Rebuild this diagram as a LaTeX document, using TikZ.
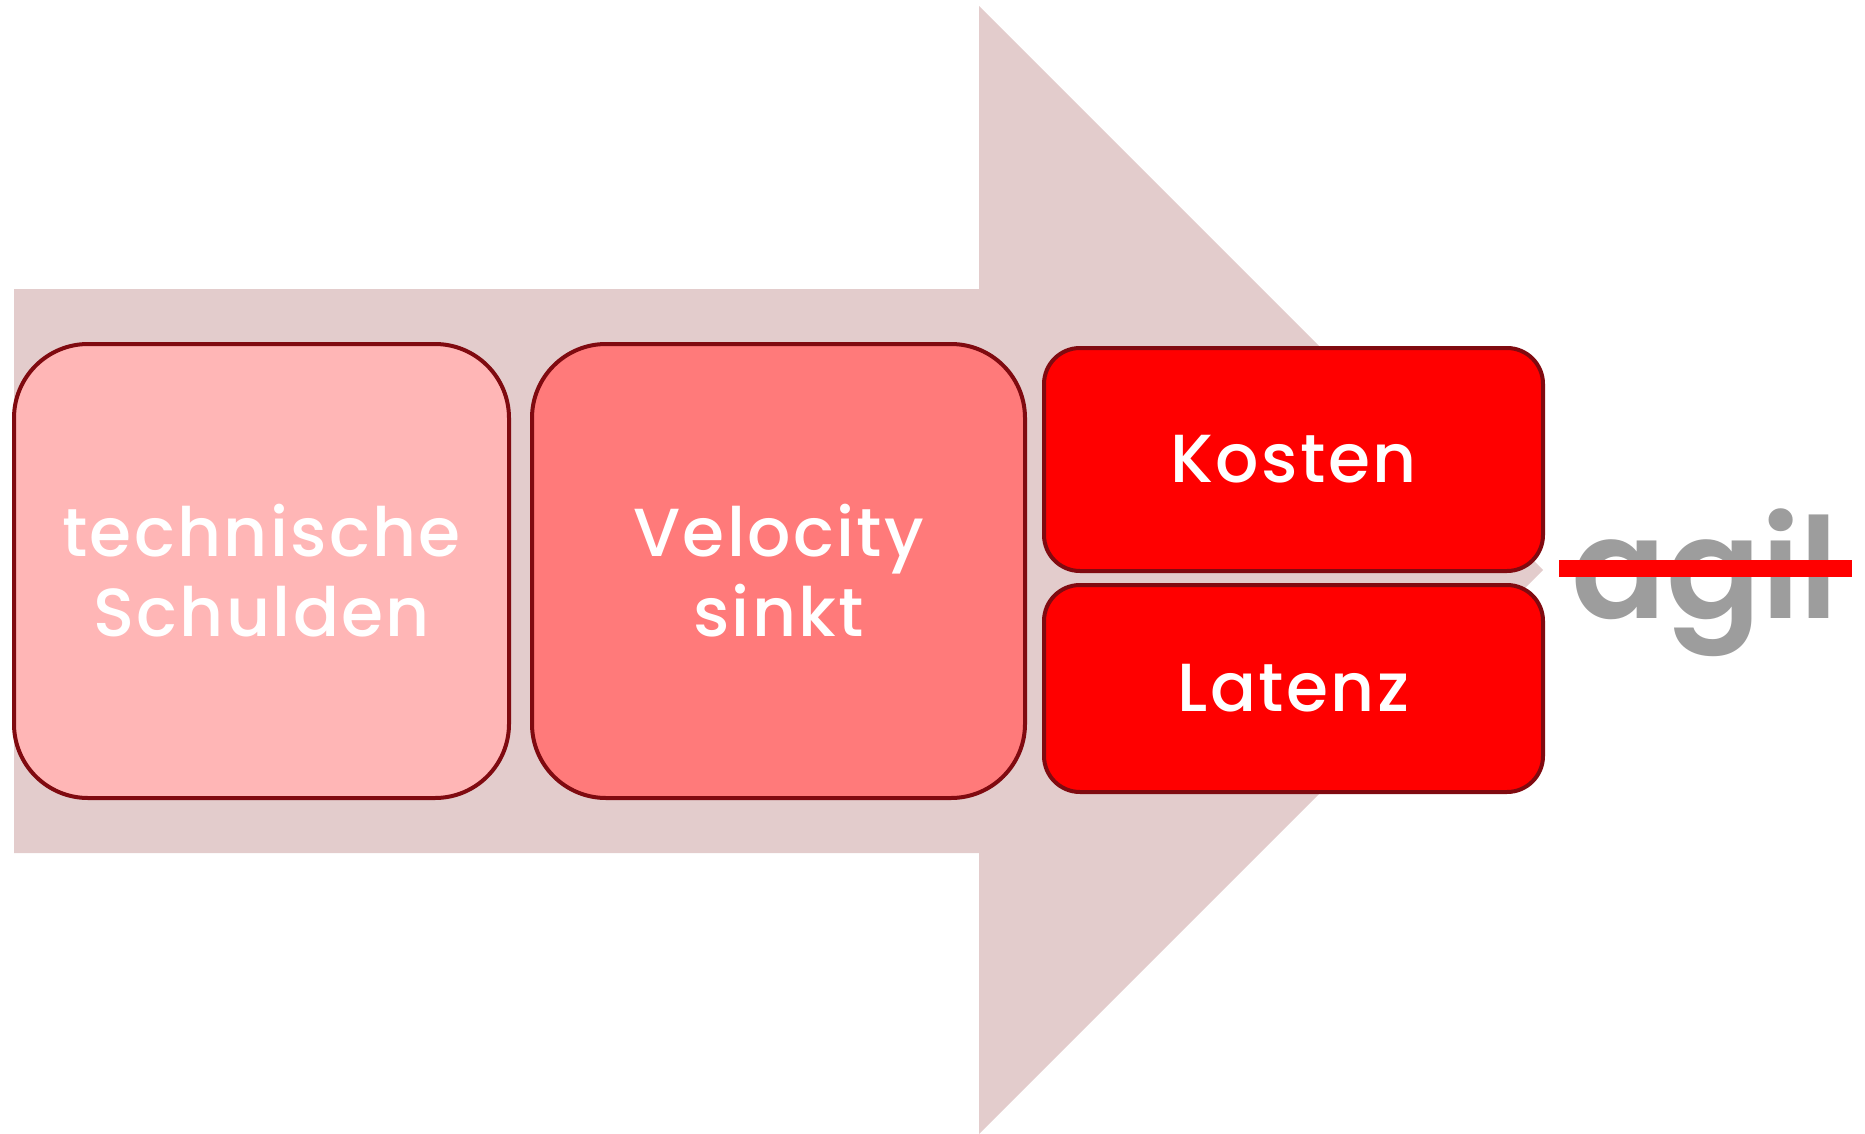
\documentclass[tikz,border=0pt]{standalone}
\usepackage{fontspec}
\setmainfont{Poppins}[UprightFont=*-Medium, BoldFont=*-SemiBold]
\definecolor{arrowfill}{HTML}{E3CCCC}
\definecolor{paleRed}{HTML}{FFB6B6}
\definecolor{midRed}{HTML}{FF7A7A}
\definecolor{fullRed}{HTML}{FF0000}
\definecolor{edgeRed}{HTML}{800A10}
\definecolor{agilGray}{HTML}{9D9D9D}
\begin{document}
\begin{tikzpicture}[x=1pt,y=-1pt,
  stage/.style={draw=edgeRed, line width=4pt, rounded corners=#1, inner sep=0pt,
    text=white, align=center,
    font=\addfontfeature{LetterSpace=3.5}\fontsize{68}{80}\selectfont},
  stage/.default=74pt]
  \useasboundingbox (0,0) rectangle (1865,1134);
  % big background arrow
  \fill[arrowfill] (14,289) -- (979,289) -- (979,6) -- (1543,570)
    -- (979,1134) -- (979,853) -- (14,853) -- cycle;
  % stages
  \node[stage, fill=paleRed, minimum width=495pt, minimum height=454pt]
    (debt) at (261.5,571) {technische\\Schulden};
  \node[stage, fill=midRed, minimum width=493pt, minimum height=454pt]
    (velocity) at (778.5,571) {Velocity\\sinkt};
  \node[stage=36pt, fill=fullRed, minimum width=499pt, minimum height=223pt]
    (cost) at (1293.5,459.5) {Kosten};
  \node[stage=36pt, fill=fullRed, minimum width=499pt, minimum height=207pt]
    (latency) at (1293.5,688.5) {Latenz};
  % crossed-out word
  \node[anchor=base, inner sep=0pt, text=agilGray,
    font=\fontsize{140}{150}\selectfont\bfseries] (agil) at (1705,618) {agil};
  \coordinate (strikeL) at (1559,568.5);
  \coordinate (strikeR) at (1852,568.5);
  \draw[fullRed, line width=17pt] (strikeL) -- (strikeR);
\end{tikzpicture}
\end{document}
